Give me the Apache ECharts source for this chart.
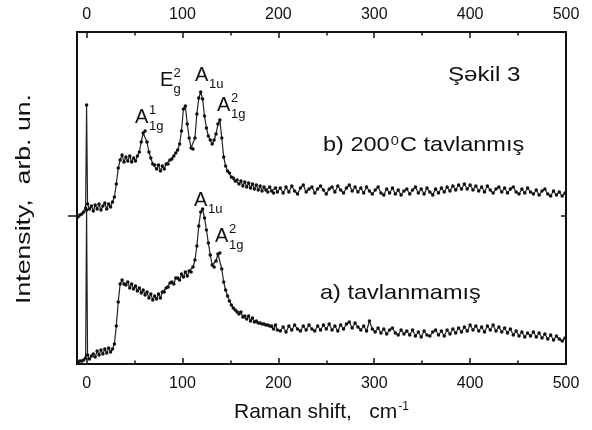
<!DOCTYPE html>
<html><head><meta charset="utf-8">
<script src="https://cdn.jsdelivr.net/npm/echarts@6/dist/echarts.min.js"></script>
<style>html,body{margin:0;padding:0;background:#fff}#c{width:592px;height:430px}</style>
</head><body><div id="c"></div>
<script>
// Raman shift grid (cm^-1)
const ramanShift = [-9,-7,-5,-3,-1,0,
1,3,5,7,9,11,13,15,17,19,
21,23,25,27,29,31,33,35,37,39,
41,43,45,47,49,51,53,55,57,59,
61,63,65,67,69,71,73,75,77,79,
81,83,85,87,89,91,93,95,97,99,
101,103,105,107,109,111,113,115,117,119,
121,123,125,127,129,131,133,135,137,139,
141,143,145,147,149,151,153,155,157,159,
161,163,165,167,169,171,173,175,177,179,
181,183,185,187,189,191,193,195,197,199,
202,205,208,211,214,217,220,223,226,229,232,
235,238,241,244,247,250,253,256,259,262,265,
268,271,274,277,280,283,286,289,292,295,298,
301,304,307,310,313,316,319,322,325,328,331,
334,337,340,343,346,349,352,355,358,361,364,
367,370,373,376,379,382,385,388,391,394,397,
400,403,406,409,412,415,418,421,424,427,430,
433,436,439,442,445,448,451,454,457,460,463,
466,469,472,475,478,481,484,487,490,493,496,
499];

// b) 200°C annealed (upper curve, arb. units incl. offset)
const intensityB = [147,149,150,152,156,259,
160,155,158,153,159,155,160,154,158,161,
155,160,157,162,167,180,196,204,209,202,
207,203,208,202,206,203,208,212,222,231,
233,222,212,206,200,199,195,199,193,198,
195,200,200,204,205,208,211,214,220,233,
255,258,240,226,216,215,226,250,266,272,
265,248,236,228,224,220,224,230,240,244,
226,207,198,193,191,187,186,183,184,180,
183,178,182,177,181,176,180,175,179,174,
178,173,177,174,172,177,173,171,176,172,
176,171,177,172,178,173,170,176,179,172,175,
177,171,175,178,174,170,175,177,172,178,174,
171,176,179,173,177,172,176,171,177,173,170,
174,177,171,169,175,171,176,170,174,169,173,
175,170,174,177,171,175,170,176,172,169,175,
171,176,172,177,173,178,174,179,175,180,175,
179,174,178,173,177,172,178,174,171,175,177,
172,176,171,175,177,172,170,175,171,176,172,
170,174,169,173,175,170,168,173,169,172,168,
171];

// a) not annealed (lower curve)
const intensityA = [2,3,3,4,6,154,
9,5,8,10,7,13,9,14,10,15,
11,16,12,15,20,38,62,80,84,80,
79,82,76,80,75,78,73,76,71,74,
69,72,66,70,64,68,65,70,66,72,
72,76,77,81,82,80,86,86,84,90,
87,92,88,93,92,97,104,118,138,152,
155,146,134,121,109,99,97,103,110,111,
95,82,74,68,63,59,56,54,52,50,
52,47,48,45,48,43,46,42,43,41,
41,40,40,39,39,38,38,35,39,34,
33,37,32,38,34,39,35,33,38,34,39,
35,33,38,34,39,35,40,34,38,33,39,
35,40,42,36,41,37,34,38,33,43,35,
32,36,31,35,30,34,36,31,29,34,30,
33,29,34,28,32,27,33,29,28,32,34,
29,33,28,34,30,35,31,36,32,37,33,
39,34,38,33,37,32,38,34,39,33,37,
32,36,31,35,29,33,28,32,27,31,28,
32,27,31,26,30,25,29,24,28,25,23,
26];

const xMajorTicks = [0,100,200,300,400,500];
const xMinorTicks = [50,150,250,350,450];
const yTickValues = [148];

const FONT = '"Liberation Sans", Arial, sans-serif';
const INK = '#111';
const chart = echarts.init(document.getElementById('c'));
const pairs = ys => ramanShift.map((x, i) => [x, ys[i]]);
const axisLine = {show: true, onZero: false, lineStyle: {color: INK, width: 2}};

function xAx(pos, ticks, len, labels, margin, extra) {
  return Object.assign({
    type: 'value', position: pos, min: -10, max: 500, gridIndex: 0,
    axisLine: axisLine,
    axisTick: {show: true, inside: true, length: len, customValues: ticks, lineStyle: {color: INK, width: 1.5}},
    axisLabel: {show: labels, customValues: ticks, fontSize: 16, color: INK, fontFamily: FONT, margin: margin},
    splitLine: {show: false}
  }, extra || {});
}
function yAx(pos, inside, len) {
  return {
    type: 'value', position: pos, min: 0, max: 332,
    axisLine: axisLine,
    axisTick: {show: true, inside: inside, length: len, customValues: yTickValues, lineStyle: {color: INK, width: 1.5}},
    axisLabel: {show: false},
    splitLine: {show: false}
  };
}

const graphics = [];
function txt(str, x, y, size, sx) {
  graphics.push({type: 'text', x: x, y: y, z: 100, scaleX: sx || 1,
    style: {text: str, fontSize: size, fontFamily: FONT, fill: INK, align: 'left', verticalAlign: 'middle'}});
}
function peak(main, sup, sub, x, y) {
  txt(main, x, y, 20);
  const w = main === 'E' ? 13.5 : 14;
  if (sup) txt(sup, x + w, y - 7, 13);
  if (sub) txt(sub, x + w, y + 9, 13);
}
peak('A', '1', '1g', 135, 117);
peak('E', '2', 'g', 160, 80);
peak('A', '', '1u', 195, 75);
peak('A', '2', '1g', 217, 105);
peak('A', '', '1u', 194, 200);
peak('A', '2', '1g', 215, 236);

graphics.push({type: 'text', x: 448, y: 75, z: 100, scaleX: 1.15,
  style: {text: 'Şəkil 3', fontSize: 21, fontFamily: FONT, fill: INK, verticalAlign: 'middle'}});
graphics.push({type: 'text', x: 323, y: 145, z: 100, scaleX: 1.12,
  style: {text: '{m|b) 200}{s|0}{m|C tavlanmış}', fontFamily: FONT, fill: INK, verticalAlign: 'middle',
    rich: {m: {fontSize: 21, fontFamily: FONT, fill: INK}, s: {fontSize: 13, fontFamily: FONT, fill: INK, verticalAlign: 'top', padding: [0, 1, 8, 1]}}}});
graphics.push({type: 'text', x: 320, y: 293, z: 100, scaleX: 1.12,
  style: {text: 'a) tavlanmamış', fontSize: 21, fontFamily: FONT, fill: INK, verticalAlign: 'middle'}});
// y-axis title (stretched along its length like the reference)
graphics.push({type: 'text', x: 24, y: 199, z: 100, rotation: Math.PI / 2, scaleX: 1.27,
  style: {text: 'Intensity,  arb. un.', fontSize: 21, fontFamily: FONT, fill: INK, align: 'center', verticalAlign: 'middle'}});

const lineSeries = (name, ys) => ({
  name: name, type: 'line', xAxisIndex: 0, yAxisIndex: 0, data: pairs(ys),
  symbol: 'circle', symbolSize: 3.5, showSymbol: true,
  itemStyle: {color: INK}, lineStyle: {color: '#222', width: 1.2}, animation: false
});

chart.setOption({
  animation: false,
  backgroundColor: '#fff',
  grid: {left: 77, right: 26, top: 32, bottom: 66},
  xAxis: [
    xAx('bottom', xMajorTicks, 6, true, 12, {
      name: 'Raman shift,   cm{s|-1}', nameLocation: 'middle', nameGap: 37,
      nameTextStyle: {fontSize: 21, fontFamily: FONT, color: INK,
        rich: {s: {fontSize: 12, fontFamily: FONT, color: INK, verticalAlign: 'top', padding: [0, 0, 10, 1]}}}
    }),
    xAx('bottom', xMinorTicks, 3.5, false, 8),
    xAx('top', xMajorTicks, 6, true, 9),
    xAx('top', xMinorTicks, 3.5, false, 8)
  ],
  yAxis: [yAx('left', false, 9), yAx('right', true, 5)],
  graphic: graphics,
  series: [lineSeries('a) tavlanmamış', intensityA), lineSeries('b) 200°C tavlanmış', intensityB)]
});
</script></body></html>
